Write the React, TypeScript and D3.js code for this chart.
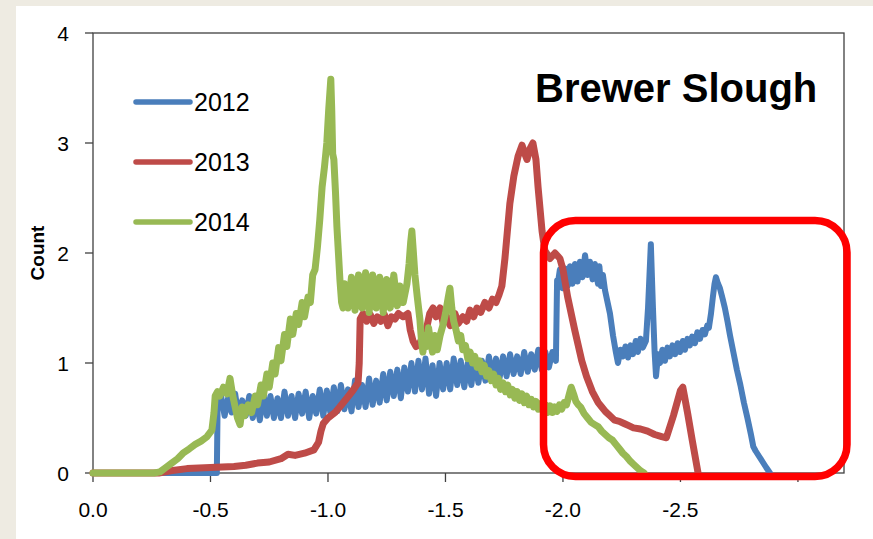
import React from "react";
import * as d3 from "d3";

type P = [number, number];

const seriesNames = ["2012", "2013", "2014"];
const seriesColors = ["#4A7EBB", "#BE4B48", "#98B954"];
const seriesWidths = [6, 7, 7];
const yTicks = [0, 1, 2, 3, 4];
const xTicks = [0, -0.5, -1.0, -1.5, -2.0, -2.5, -3.0];
const xTickLabels = ["0.0", "-0.5", "-1.0", "-1.5", "-2.0", "-2.5"];
const title = "Brewer Slough";
const yTitle = "Count";

const blue2012: P[] = [
  [0, 0], [-0.527, 0], [-0.53, 0.57], [-0.545, 0.7], [-0.56, 0.52], [-0.575, 0.68], [-0.59, 0.55],
  [-0.605, 0.72], [-0.62, 0.5], [-0.635, 0.66], [-0.65, 0.52], [-0.665, 0.7], [-0.68, 0.5],
  [-0.695, 0.66], [-0.71, 0.48], [-0.725, 0.72], [-0.74, 0.52], [-0.755, 0.7], [-0.77, 0.5],
  [-0.785, 0.68], [-0.8, 0.5], [-0.815, 0.74], [-0.83, 0.52], [-0.845, 0.7], [-0.86, 0.5],
  [-0.875, 0.72], [-0.89, 0.54], [-0.905, 0.74], [-0.92, 0.5], [-0.935, 0.7], [-0.95, 0.54],
  [-0.965, 0.76], [-0.98, 0.52], [-0.995, 0.75], [-1.01, 0.55], [-1.025, 0.78], [-1.04, 0.56],
  [-1.055, 0.8], [-1.07, 0.58], [-1.085, 0.76], [-1.1, 0.56], [-1.115, 0.84], [-1.13, 0.6],
  [-1.145, 0.8], [-1.16, 0.6], [-1.175, 0.86], [-1.19, 0.62], [-1.205, 0.84], [-1.22, 0.64],
  [-1.235, 0.9], [-1.25, 0.66], [-1.265, 0.92], [-1.28, 0.7], [-1.295, 0.94], [-1.31, 0.68],
  [-1.325, 0.96], [-1.34, 0.74], [-1.355, 1.0], [-1.37, 0.74], [-1.385, 1.02], [-1.4, 0.76],
  [-1.415, 1.04], [-1.43, 0.72], [-1.445, 0.98], [-1.46, 0.7], [-1.475, 1.0], [-1.49, 0.76],
  [-1.505, 1.0], [-1.52, 0.76], [-1.535, 1.04], [-1.55, 0.8], [-1.565, 1.02], [-1.58, 0.78],
  [-1.595, 1.0], [-1.61, 0.8], [-1.625, 1.04], [-1.64, 0.82], [-1.655, 1.02], [-1.67, 0.84],
  [-1.685, 1.06], [-1.7, 0.86], [-1.715, 1.04], [-1.73, 0.86], [-1.745, 1.06], [-1.76, 0.88],
  [-1.775, 1.08], [-1.79, 0.9], [-1.805, 1.06], [-1.82, 0.9], [-1.835, 1.1], [-1.85, 0.92],
  [-1.865, 1.08], [-1.88, 0.94], [-1.895, 1.12], [-1.91, 0.94], [-1.925, 1.1], [-1.94, 0.96],
  [-1.955, 1.1], [-1.97, 1.02], [-1.975, 1.75], [-1.978, 1.72], [-1.987, 1.85], [-1.998, 1.68],
  [-2.009, 1.86], [-2.02, 1.7], [-2.03, 1.88], [-2.04, 1.72], [-2.051, 1.9], [-2.062, 1.74],
  [-2.072, 1.92], [-2.083, 1.78], [-2.094, 1.98], [-2.105, 1.8], [-2.115, 1.92], [-2.126, 1.76],
  [-2.136, 1.9], [-2.149, 1.72], [-2.155, 1.88], [-2.162, 1.7], [-2.17, 1.8], [-2.179, 1.66],
  [-2.19, 1.55], [-2.2, 1.45], [-2.213, 1.25], [-2.225, 1.1], [-2.234, 1.0], [-2.245, 1.12],
  [-2.255, 1.06], [-2.266, 1.15], [-2.277, 1.05], [-2.288, 1.16], [-2.298, 1.08], [-2.31, 1.2],
  [-2.319, 1.1], [-2.33, 1.22], [-2.34, 1.14], [-2.353, 1.2], [-2.362, 1.5], [-2.374, 2.08],
  [-2.383, 1.5], [-2.39, 1.1], [-2.396, 0.88], [-2.405, 1.08], [-2.413, 1.0], [-2.423, 1.12],
  [-2.434, 1.02], [-2.445, 1.14], [-2.455, 1.06], [-2.466, 1.16], [-2.477, 1.08], [-2.488, 1.18],
  [-2.498, 1.1], [-2.51, 1.2], [-2.519, 1.12], [-2.53, 1.22], [-2.54, 1.16], [-2.55, 1.24],
  [-2.562, 1.18], [-2.572, 1.28], [-2.583, 1.22], [-2.594, 1.3], [-2.604, 1.26], [-2.614, 1.34],
  [-2.621, 1.32], [-2.63, 1.45], [-2.638, 1.6], [-2.645, 1.72], [-2.651, 1.78], [-2.66, 1.72],
  [-2.668, 1.68], [-2.68, 1.58], [-2.689, 1.5], [-2.7, 1.38], [-2.711, 1.25], [-2.725, 1.1],
  [-2.74, 0.94], [-2.755, 0.8], [-2.77, 0.64], [-2.785, 0.5], [-2.8, 0.35], [-2.81, 0.24],
  [-2.82, 0.2], [-2.835, 0.15], [-2.85, 0.1], [-2.865, 0.05], [-2.881, 0],
];

const red2013: P[] = [
  [0, 0], [-0.28, 0], [-0.33, 0.02], [-0.4, 0.04], [-0.5, 0.05], [-0.6, 0.06], [-0.65, 0.07],
  [-0.7, 0.09], [-0.75, 0.1], [-0.8, 0.13], [-0.83, 0.17], [-0.86, 0.16], [-0.9, 0.18],
  [-0.94, 0.21], [-0.96, 0.28], [-0.97, 0.38], [-0.98, 0.45], [-1.0, 0.5], [-1.03, 0.55],
  [-1.05, 0.6], [-1.08, 0.68], [-1.106, 0.75], [-1.128, 0.82], [-1.133, 1.0], [-1.137, 1.4],
  [-1.15, 1.45], [-1.165, 1.38], [-1.18, 1.44], [-1.195, 1.36], [-1.21, 1.42], [-1.225, 1.38],
  [-1.24, 1.44], [-1.255, 1.34], [-1.27, 1.42], [-1.285, 1.4], [-1.3, 1.45], [-1.32, 1.42],
  [-1.34, 1.45], [-1.35, 1.3], [-1.362, 1.2], [-1.375, 1.15], [-1.391, 1.18], [-1.405, 1.25],
  [-1.42, 1.32], [-1.433, 1.45], [-1.447, 1.5], [-1.46, 1.42], [-1.477, 1.5], [-1.49, 1.36],
  [-1.506, 1.42], [-1.52, 1.34], [-1.54, 1.45], [-1.555, 1.36], [-1.574, 1.42], [-1.59, 1.38],
  [-1.604, 1.48], [-1.62, 1.42], [-1.634, 1.5], [-1.65, 1.46], [-1.668, 1.55], [-1.685, 1.5],
  [-1.7, 1.58], [-1.715, 1.55], [-1.728, 1.62], [-1.74, 1.7], [-1.753, 1.95], [-1.774, 2.45],
  [-1.791, 2.7], [-1.809, 2.88], [-1.826, 2.98], [-1.838, 2.9], [-1.847, 2.85], [-1.86, 2.95],
  [-1.872, 3.0], [-1.885, 2.85], [-1.894, 2.6], [-1.911, 2.2], [-1.923, 2.02], [-1.945, 1.95],
  [-1.966, 2.0], [-1.987, 1.95], [-2.0, 1.85], [-2.02, 1.6], [-2.05, 1.3], [-2.08, 1.02],
  [-2.1, 0.88], [-2.125, 0.74], [-2.15, 0.64], [-2.165, 0.6], [-2.18, 0.56], [-2.2, 0.52],
  [-2.22, 0.48], [-2.24, 0.47], [-2.26, 0.45], [-2.28, 0.43], [-2.3, 0.41], [-2.33, 0.4],
  [-2.36, 0.38], [-2.39, 0.35], [-2.42, 0.33], [-2.44, 0.32], [-2.47, 0.52], [-2.5, 0.75],
  [-2.51, 0.78], [-2.53, 0.55], [-2.55, 0.3], [-2.575, 0],
];

const green2014: P[] = [
  [0, 0], [-0.26, 0], [-0.285, 0.01], [-0.31, 0.05], [-0.335, 0.09], [-0.36, 0.13],
  [-0.383, 0.18], [-0.41, 0.22], [-0.435, 0.26], [-0.46, 0.29], [-0.485, 0.33], [-0.506, 0.39],
  [-0.515, 0.55], [-0.52, 0.7], [-0.53, 0.74], [-0.54, 0.7], [-0.555, 0.78], [-0.57, 0.72],
  [-0.583, 0.86], [-0.595, 0.7], [-0.605, 0.6], [-0.615, 0.5], [-0.626, 0.44], [-0.635, 0.6],
  [-0.645, 0.52], [-0.66, 0.62], [-0.675, 0.55], [-0.69, 0.7], [-0.7, 0.62], [-0.715, 0.8],
  [-0.725, 0.7], [-0.74, 0.9], [-0.75, 0.78], [-0.765, 1.0], [-0.775, 0.9], [-0.79, 1.14],
  [-0.8, 1.02], [-0.815, 1.26], [-0.825, 1.15], [-0.84, 1.4], [-0.85, 1.26], [-0.865, 1.45],
  [-0.875, 1.35], [-0.89, 1.55], [-0.9, 1.42], [-0.915, 1.6], [-0.925, 1.55], [-0.935, 1.8],
  [-0.945, 1.85], [-0.955, 2.05], [-0.965, 2.3], [-0.975, 2.6], [-0.985, 2.78], [-0.995, 3.0],
  [-1.003, 3.3], [-1.012, 3.58], [-1.016, 3.3], [-1.02, 2.9], [-1.025, 2.85], [-1.032, 2.55],
  [-1.038, 2.24], [-1.045, 1.98], [-1.051, 1.75], [-1.058, 1.55], [-1.064, 1.5],
  [-1.07, 1.72], [-1.085, 1.5], [-1.1, 1.78], [-1.115, 1.48], [-1.13, 1.8], [-1.145, 1.5],
  [-1.16, 1.82], [-1.175, 1.46], [-1.19, 1.8], [-1.205, 1.5], [-1.22, 1.78], [-1.235, 1.46],
  [-1.25, 1.76], [-1.265, 1.5], [-1.28, 1.8], [-1.295, 1.52], [-1.306, 1.7], [-1.32, 1.55],
  [-1.336, 1.72], [-1.345, 1.9], [-1.352, 2.1], [-1.357, 2.2], [-1.362, 2.05], [-1.37, 1.8],
  [-1.38, 1.6], [-1.391, 1.4], [-1.398, 1.2], [-1.404, 1.1], [-1.412, 1.25], [-1.42, 1.15],
  [-1.428, 1.32], [-1.436, 1.2], [-1.445, 1.1], [-1.455, 1.25], [-1.465, 1.12], [-1.477, 1.25],
  [-1.49, 1.35], [-1.5, 1.45], [-1.512, 1.6], [-1.519, 1.68], [-1.527, 1.5], [-1.535, 1.38],
  [-1.545, 1.3], [-1.555, 1.2], [-1.565, 1.25], [-1.574, 1.12], [-1.585, 1.16], [-1.595, 1.04],
  [-1.605, 1.1], [-1.615, 1.0], [-1.625, 1.06], [-1.635, 0.96], [-1.645, 1.02], [-1.655, 0.92],
  [-1.665, 0.98], [-1.675, 0.88], [-1.685, 0.93], [-1.695, 0.84], [-1.705, 0.9], [-1.715, 0.8],
  [-1.725, 0.86], [-1.735, 0.76], [-1.745, 0.82], [-1.755, 0.74], [-1.765, 0.8], [-1.775, 0.71],
  [-1.785, 0.76], [-1.795, 0.68], [-1.805, 0.74], [-1.815, 0.66], [-1.825, 0.72], [-1.835, 0.64],
  [-1.845, 0.7], [-1.855, 0.62], [-1.865, 0.67], [-1.875, 0.6], [-1.885, 0.65], [-1.895, 0.58],
  [-1.905, 0.63], [-1.915, 0.56], [-1.925, 0.62], [-1.935, 0.55], [-1.945, 0.61], [-1.955, 0.55],
  [-1.965, 0.6], [-1.975, 0.56], [-1.985, 0.62], [-1.995, 0.58], [-2.005, 0.64], [-2.015, 0.62],
  [-2.025, 0.7], [-2.035, 0.78], [-2.045, 0.72], [-2.055, 0.65], [-2.065, 0.62], [-2.075, 0.6],
  [-2.09, 0.54], [-2.105, 0.5], [-2.12, 0.46], [-2.135, 0.44], [-2.15, 0.42], [-2.165, 0.38],
  [-2.18, 0.35], [-2.195, 0.32], [-2.21, 0.3], [-2.225, 0.26], [-2.24, 0.22], [-2.255, 0.18],
  [-2.27, 0.15], [-2.285, 0.11], [-2.3, 0.08], [-2.315, 0.05], [-2.33, 0.02], [-2.345, 0],
];

const allSeries = [blue2012, red2013, green2014];

const W = 873;
const H = 539;
const left = 93;
const right = 844;
const top = 33;
const bottom = 473;

export default function App() {
  React.useEffect(() => {
    document.body.style.margin = "0";
  }, []);
  const x = d3.scaleLinear().domain([0, -3.196]).range([left, right]);
  const y = d3.scaleLinear().domain([0, 4]).range([bottom, top]);
  const line = d3
    .line<P>()
    .x((d) => x(d[0]))
    .y((d) => y(d[1]));
  const axisColor = "#404040";
  const font = "'Liberation Sans', Arial, sans-serif";
  return (
    <svg width={W} height={H} style={{ position: "absolute", left: 0, top: 0, display: "block" }}>
      <rect x={0} y={0} width={W} height={H} fill="#EEEBE2" />
      <rect x={16} y={6} width={W - 16} height={H - 6} fill="#FFFFFF" />
      <rect x={left} y={top} width={right - left} height={bottom - top} fill="none" stroke={axisColor} strokeWidth={1.3} />
      {yTicks.map((t) => (
        <g key={"y" + t}>
          <line x1={left - 8} x2={left} y1={y(t)} y2={y(t)} stroke={axisColor} strokeWidth={1.3} />
          <text x={left - 24} y={y(t) + 8} textAnchor="end" fontFamily={font} fontSize={21} fill="#000">
            {t}
          </text>
        </g>
      ))}
      {xTicks.map((t, i) => (
        <g key={"x" + i}>
          <line x1={x(t)} x2={x(t)} y1={bottom} y2={bottom + 9} stroke={axisColor} strokeWidth={1.3} />
          {xTickLabels[i] !== undefined && (
            <text x={x(t)} y={bottom + 44} textAnchor="middle" fontFamily={font} fontSize={21} fill="#000">
              {xTickLabels[i]}
            </text>
          )}
        </g>
      ))}
      <text
        transform={`translate(44,253) rotate(-90)`}
        textAnchor="middle"
        fontFamily={font}
        fontWeight="bold"
        fontSize={19}
        fill="#000"
      >
        {yTitle}
      </text>
      {allSeries.map((s, i) => (
        <path
          key={"s" + i}
          d={line(s) || ""}
          fill="none"
          stroke={seriesColors[i]}
          strokeWidth={seriesWidths[i]}
          strokeLinejoin="round"
          strokeLinecap="round"
        />
      ))}
      {seriesNames.map((n, i) => (
        <g key={"l" + n}>
          <line x1={136} x2={190} y1={102 + i * 60} y2={102 + i * 60} stroke={seriesColors[i]} strokeWidth={5.5} strokeLinecap="round" />
          <text x={194} y={111 + i * 60} fontFamily={font} fontSize={25} fill="#000">
            {n}
          </text>
        </g>
      ))}
      <text x={535} y={102} fontFamily={font} fontWeight="bold" fontSize={40} fill="#000">
        {title}
      </text>
      <rect x={543.5} y={220.5} width={303.5} height={256} rx={32} ry={32} fill="none" stroke="#FF0000" strokeWidth={7.5} />
    </svg>
  );
}
